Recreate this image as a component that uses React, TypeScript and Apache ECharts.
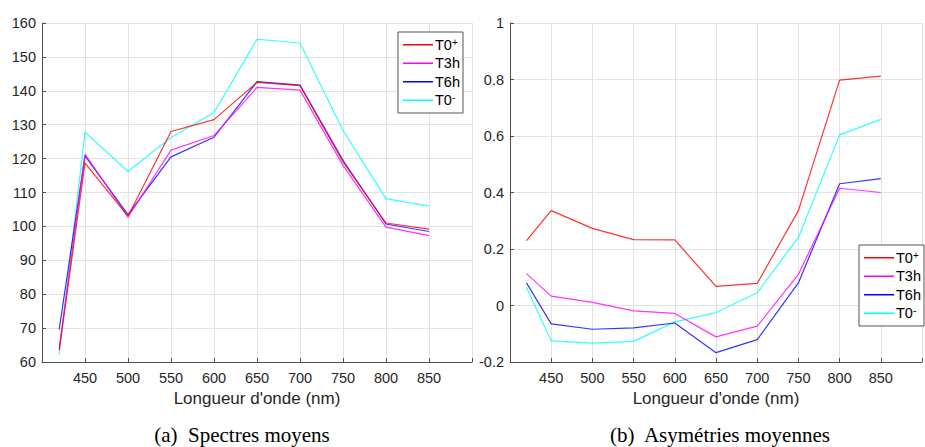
import React, { useEffect, useRef } from "react";
import * as echarts from "echarts";

const wavelengths = [420, 450, 500, 550, 600, 650, 700, 750, 800, 850];
const seriesNames = ["T0+", "T3h", "T6h", "T0-"];
const seriesColors = ["#ff0000", "#ff00ff", "#0000ff", "#00ffff"];

// (a) Spectres moyens
const specT0plus = [63.5, 118.7, 103.0, 128.0, 131.5, 142.5, 141.5, 119.0, 101.0, 99.2];
const specT3h = [64.0, 121.3, 102.7, 122.5, 126.8, 141.0, 140.2, 118.0, 99.8, 97.3];
const specT6h = [69.6, 120.8, 103.5, 120.5, 126.3, 142.7, 141.7, 119.5, 100.7, 98.5];
const specT0minus = [62.3, 127.8, 116.2, 126.2, 133.6, 155.2, 154.1, 128.3, 108.2, 106.0];

// (b) Asymétries moyennes
const asymT0plus = [0.23, 0.336, 0.273, 0.233, 0.232, 0.068, 0.078, 0.336, 0.798, 0.812];
const asymT3h = [0.113, 0.033, 0.011, -0.019, -0.028, -0.111, -0.073, 0.11, 0.415, 0.4];
const asymT6h = [0.08, -0.065, -0.084, -0.079, -0.062, -0.167, -0.121, 0.08, 0.431, 0.449];
const asymT0minus = [0.064, -0.125, -0.133, -0.127, -0.058, -0.025, 0.045, 0.241, 0.604, 0.659];

const xTickLabels = ["450", "500", "550", "600", "650", "700", "750", "800", "850"];
const axisTitle = "Longueur d'onde (nm)";
const captionA = "(a)  Spectres moyens";
const captionB = "(b)  Asymétries moyennes";

const specData = [specT0plus, specT3h, specT6h, specT0minus];
const asymData = [asymT0plus, asymT3h, asymT6h, asymT0minus];

const FONT = '"Liberation Sans", Arial, Helvetica, sans-serif';
const TXT = "#262626";
const AXIS = "#4d4d4d";
const GRIDC = "#e3e3e3";

function xAxisCfg(gridIndex: number) {
  return {
    type: "value",
    gridIndex,
    min: 400,
    max: 900,
    interval: 50,
    name: axisTitle,
    nameLocation: "middle",
    nameGap: 25,
    nameTextStyle: { color: TXT, fontSize: 17, fontFamily: FONT },
    axisLine: { show: true, onZero: false, lineStyle: { color: AXIS, width: 1 } },
    axisTick: { show: true, inside: true, length: 4, lineStyle: { color: AXIS } },
    axisLabel: {
      color: TXT,
      fontSize: 14.5,
      fontFamily: FONT,
      margin: 8,
      formatter: (v: number) => (xTickLabels.indexOf(String(v)) >= 0 ? String(v) : ""),
    },
    splitLine: { show: true, lineStyle: { color: GRIDC, width: 1 } },
  };
}

function yAxisCfg(gridIndex: number, min: number, max: number, interval: number) {
  return {
    type: "value",
    gridIndex,
    min,
    max,
    interval,
    axisLine: { show: true, onZero: false, lineStyle: { color: AXIS, width: 1 } },
    axisTick: { show: true, inside: true, length: 4, lineStyle: { color: AXIS } },
    axisLabel: {
      color: TXT,
      fontSize: 14.5,
      fontFamily: FONT,
      margin: 6,
      formatter: (v: number) => String(Math.round(v * 1000) / 1000),
    },
    splitLine: { show: true, lineStyle: { color: GRIDC, width: 1 } },
  };
}

function legendCfg(left: number, top: number) {
  return {
    left,
    top,
    orient: "vertical",
    data: seriesNames,
    icon: "rect",
    itemWidth: 30,
    itemHeight: 1.5,
    itemGap: 3,
    padding: [5, 3, 5, 5],
    borderColor: "#555555",
    borderWidth: 1,
    backgroundColor: "#ffffff",
    selectedMode: false,
    textStyle: {
      color: "#000000",
      fontSize: 14.5,
      fontFamily: FONT,
      lineHeight: 15.5,
      padding: [0, 0, 0, -3],
      rich: {
        sup: { fontSize: 10, lineHeight: 10, verticalAlign: "top", fontFamily: FONT, color: "#000000" },
      },
    },
    formatter: (name: string) => {
      if (name === "T0+") return "T0{sup|+}";
      if (name === "T0-") return "T0{sup|-}";
      return name;
    },
  };
}

export default function App() {
  const ref = useRef<HTMLDivElement>(null);

  useEffect(() => {
    if (!ref.current) return;
    const chart = echarts.init(ref.current, undefined, { renderer: "svg" });

    const series: any[] = [];
    seriesNames.forEach((name, i) => {
      series.push({
        type: "line",
        name,
        xAxisIndex: 0,
        yAxisIndex: 0,
        data: wavelengths.map((w, k) => [w, specData[i][k]]),
        showSymbol: false,
        symbol: "none",
        color: seriesColors[i],
        lineStyle: { color: seriesColors[i], width: 1.2, opacity: 0.8 },
        z: 10 - i,
      });
    });
    seriesNames.forEach((name, i) => {
      series.push({
        type: "line",
        name,
        xAxisIndex: 1,
        yAxisIndex: 1,
        data: wavelengths.map((w, k) => [w, asymData[i][k]]),
        showSymbol: false,
        symbol: "none",
        color: seriesColors[i],
        lineStyle: { color: seriesColors[i], width: 1.2, opacity: 0.8 },
        z: 10 - i,
      });
    });

    chart.setOption({
      animation: false,
      backgroundColor: "#ffffff",
      grid: [
        { left: 42, top: 23, width: 430, height: 339, containLabel: false },
        { left: 510, top: 23, width: 428, height: 339, containLabel: false },
      ],
      xAxis: [xAxisCfg(0), xAxisCfg(1)],
      yAxis: [yAxisCfg(0, 60, 160, 10), yAxisCfg(1, -0.2, 1, 0.2)],
      legend: [legendCfg(398, 32), legendCfg(859, 245)],
      series,
      graphic: [
        {
          type: "text",
          x: 242,
          y: 435,
          style: {
            text: captionA,
            font: '21px "Liberation Serif", "Times New Roman", serif',
            fill: "#000000",
            align: "center",
            verticalAlign: "middle",
          },
        },
        {
          type: "text",
          x: 720,
          y: 435,
          style: {
            text: captionB,
            font: '21px "Liberation Serif", "Times New Roman", serif',
            fill: "#000000",
            align: "center",
            verticalAlign: "middle",
          },
        },
      ],
    });

    return () => chart.dispose();
  }, []);

  return (
    <div
      ref={ref}
      style={{ position: "absolute", left: 0, top: 0, width: 925, height: 447, background: "#ffffff" }}
    />
  );
}
